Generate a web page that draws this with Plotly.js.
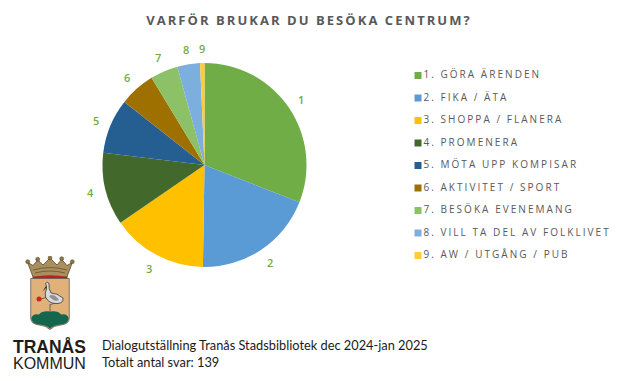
<!DOCTYPE html>
<html><head><meta charset="utf-8">
<script src="https://cdn.plot.ly/plotly-3.0.1.min.js"></script>
<style>
html,body{margin:0;padding:0;background:#fff}
.gtitle{letter-spacing:2.05px}
.textpoint text{letter-spacing:2.05px}
</style></head><body><div id="chart" style="width:620px;height:381px"></div>
<script>
const sliceNames=["1","2","3","4","5","6","7","8","9"];
const sliceValues=[31,19.3,15.2,11.5,8.7,5.7,4.4,3.6,0.7];
const legendLabels=["1. GÖRA ÄRENDEN","2. FIKA / ÄTA","3. SHOPPA / FLANERA","4. PROMENERA","5. MÖTA UPP KOMPISAR","6. AKTIVITET / SPORT","7. BESÖKA EVENEMANG","8. VILL TA DEL AV FOLKLIVET","9. AW / UTGÅNG / PUB"];
const sliceColors=["#70AD47","#5B9BD5","#FFC000","#43682B","#255E91","#9E7000","#8CC168","#7CAFDD","#FFCD33"];
const legendX=legendLabels.map(()=>0);
const legendY=legendLabels.map((_,i)=>i);
const titleText="VARFÖR BRUKAR DU BESÖKA CENTRUM?";
const footerLines=["Dialogutställning Tranås Stadsbibliotek dec 2024-jan 2025","Totalt antal svar: 139"];
const logo=`<svg xmlns="http://www.w3.org/2000/svg" viewBox="0 0 50 74" width="200" height="296">
<path d="M8 21 L2.700 6.500 L8 9.500 L12.700 4 L18 9 L25 2 L32 9 L36.700 3.500 L42 9.500 L47.300 6.500 L42 21 Z" fill="#a98e5e" stroke="#5a4526" stroke-width=".8"/>
<path d="M8 14 Q25 9 42 14 M10 17 Q25 13 40 17" fill="none" stroke="#6a5230" stroke-width=".8"/>
<circle cx="2.700" cy="5.700" r="2" fill="#8d7548" stroke="#5a4526" stroke-width=".5"/><circle cx="12.700" cy="3.300" r="2" fill="#8d7548" stroke="#5a4526" stroke-width=".5"/><circle cx="25" cy="2" r="2" fill="#8d7548" stroke="#5a4526" stroke-width=".5"/><circle cx="36.700" cy="2.700" r="2" fill="#8d7548" stroke="#5a4526" stroke-width=".5"/><circle cx="47.300" cy="5.700" r="2" fill="#8d7548" stroke="#5a4526" stroke-width=".5"/>
<path d="M7.500 21 Q25 17.500 42.500 21 L42.500 22.500 H7.500 Z" fill="#b8231a"/>
<path d="M5.700 22.500 H44.300 V62 Q44.300 68 36 69 Q29 69.500 25 73.500 Q21 69.500 14 69 Q5.700 68 5.700 62 Z" fill="#e0b27a" stroke="#333" stroke-width=".6"/>
<path d="M6.300 62 Q8 57 14 58.500 Q17 54.500 25 55.500 Q33 54.500 36 58.500 Q42 57 43.700 62 Q43.700 67.500 36 68.500 Q29 69 25 72.800 Q21 69 14 68.500 Q6.300 67.500 6.300 62 Z" fill="#14664f"/>
<path d="M25 48 V56" stroke="#6b6b6b" stroke-width="1.100"/>
<path d="M30 47 L25 49" stroke="#6b6b6b" stroke-width=".9"/>
<path d="M21 30 L17.500 35.500 L22 31 Z" fill="#222"/>
<path d="M20.500 27.500 Q22.500 25 24 27.500 Q23.500 33 26 37 Q32 37 38 42 Q38.500 47.500 32 47.500 Q24 48 20.500 41 Q19.500 37 21.500 33 Q22 30 20.500 27.500 Z" fill="#d9dadb" stroke="#222" stroke-width=".7"/>
<path d="M24 40 Q29 37 34 44 Q29 46.500 24 40 Z" fill="#8f9194"/>
<circle cx="14" cy="43" r="2.500" fill="#c8281e"/><path d="M16 43 L21 41.500" stroke="#333" stroke-width=".6"/></svg>`;
function px(x){return x/620} function py(y){return 1-y/381}
const pieCx=204.5,pieCy=165,pieR=102,labelR=117;
const valueTotal=sliceValues.reduce((a,b)=>a+b,0);
let running=0;
const sliceAnn=sliceNames.map((n,i)=>{
  const a=(running+sliceValues[i]/2)/valueTotal*2*Math.PI; running+=sliceValues[i];
  return {text:n,x:px(pieCx+labelR*Math.sin(a)),y:py(pieCy-labelR*Math.cos(a)),xref:'paper',yref:'paper',xanchor:'center',yanchor:'middle',showarrow:false,
    font:{family:'Open Sans, sans-serif',size:11,weight:600,color:'#70AD47'}};
});
const footerAnn=footerLines.map((t,i)=>({text:t,x:px(99.5),y:py(345+i*17),xref:'paper',yref:'paper',xanchor:'left',yanchor:'middle',showarrow:false,font:{family:'Lato, "Noto Sans", sans-serif',size:12.8,color:'#1a1a1a'}}));
const data=[
{type:'pie',labels:sliceNames,values:sliceValues,sort:false,direction:'clockwise',rotation:0,
 marker:{colors:sliceColors,line:{width:0}},textinfo:'none',hoverinfo:'label+percent',
 showlegend:false,domain:{x:[px(pieCx-pieR),px(pieCx+pieR)],y:[py(pieCy+pieR),py(pieCy-pieR)]}},
{type:'scatter',mode:'markers+text',x:legendX,y:legendY,text:legendLabels,textposition:'middle right',
 marker:{symbol:'square',size:7,color:sliceColors},cliponaxis:false,
 textfont:{family:'Open Sans, sans-serif',size:10,color:'#595959'},hoverinfo:'text',showlegend:false,xaxis:'x',yaxis:'y'}
];
const layout={width:620,height:381,margin:{l:0,r:0,t:0,b:0},paper_bgcolor:'#fff',plot_bgcolor:'#fff',showlegend:false,
 title:{text:titleText,font:{family:'Open Sans, sans-serif',size:13,weight:700,color:'#595959'},x:px(309),xanchor:'center',y:py(20),yanchor:'middle'},
 xaxis:{domain:[px(418),px(618)],range:[0,200],visible:false,fixedrange:true},
 yaxis:{domain:[py(255.5),py(75.5)],range:[8,0],visible:false,fixedrange:true},
 images:[{source:'data:image/svg+xml;charset=utf-8,'+encodeURIComponent(logo),xref:'paper',yref:'paper',x:px(25),y:py(256),sizex:px(50),sizey:74/381,xanchor:'left',yanchor:'top',sizing:'stretch',layer:'above'}],
 annotations:[
  {text:'<b>TRANÅS</b>',x:px(49.5),y:py(346.5),xref:'paper',yref:'paper',xanchor:'center',yanchor:'middle',showarrow:false,font:{family:'Liberation Sans, Arial, sans-serif',size:17.5,color:'#1d1d1b'}},
  {text:'KOMMUN',x:px(49.5),y:py(363),xref:'paper',yref:'paper',xanchor:'center',yanchor:'middle',showarrow:false,font:{family:'Liberation Sans, Arial, sans-serif',size:16,color:'#1d1d1b'}},
  ...sliceAnn,...footerAnn]};
Plotly.newPlot('chart',data,layout,{displayModeBar:false,staticPlot:true});
</script></body></html>
